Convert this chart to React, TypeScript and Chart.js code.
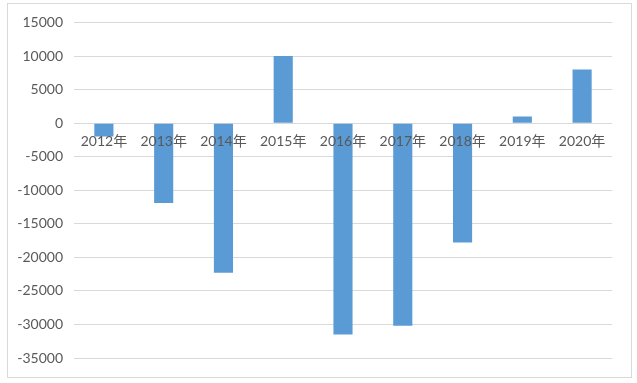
import React, { useEffect, useRef } from "react";
import { Chart, registerables } from "chart.js";

Chart.register(...registerables);

const categories = ["2012年", "2013年", "2014年", "2015年", "2016年", "2017年", "2018年", "2019年", "2020年"];
const values = [-2000, -11900, -22300, 10000, -31500, -30200, -17800, 1000, 8000];
const yMin = -35000;
const yMax = 15000;
const yStep = 5000;

const FONT = "Lato, 'Noto Sans CJK SC', sans-serif";
const TEXT = "#595959";
const GRID = "#d9d9d9";

const borderPlugin = {
  id: "outerBorder",
  beforeDraw(chart: any) {
    const ctx = chart.ctx;
    ctx.save();
    ctx.fillStyle = "#ffffff";
    ctx.fillRect(0, 0, chart.width, chart.height);
    ctx.strokeStyle = GRID;
    ctx.lineWidth = 1;
    ctx.strokeRect(7.5, 3.5, 624, 374);
    ctx.restore();
  },
};

export default function App() {
  const ref = useRef<HTMLCanvasElement>(null);
  useEffect(() => {
    if (!ref.current) return;
    const chart = new Chart(ref.current, {
      type: "bar",
      data: {
        labels: categories,
        datasets: [
          {
            data: values,
            backgroundColor: "#5b9bd5",
            borderWidth: 0,
            barPercentage: 0.32,
            categoryPercentage: 1,
          },
        ],
      },
      options: {
        responsive: false,
        animation: false,
        devicePixelRatio: 1,
        layout: { padding: { left: 0, right: 25, top: 22.5, bottom: 25 } },
        plugins: { legend: { display: false }, tooltip: { enabled: false } },
        scales: {
          x: {
            position: { y: 0 } as any,
            grid: { display: false, drawTicks: false },
            border: { display: false },
            ticks: {
              z: 1,
              color: TEXT,
              font: { family: FONT, size: 14 },
              padding: 10,
              maxRotation: 0,
              autoSkip: false,
            } as any,
            afterFit(scale: any) {
              scale.height = 0;
            },
          },
          y: {
            min: yMin,
            max: yMax,
            grid: { color: GRID, drawTicks: false },
            border: { display: false },
            ticks: {
              stepSize: yStep,
              color: TEXT,
              font: { family: FONT, size: 14 },
              padding: 11,
              callback: (v: any) => String(v),
            },
            afterFit(scale: any) {
              scale.width = 74;
            },
          },
        },
      },
      plugins: [borderPlugin],
    });
    return () => chart.destroy();
  }, []);
  return (
    <div style={{ position: "fixed", left: 0, top: 0, width: 637, height: 383 }}>
      <canvas ref={ref} width={637} height={383} style={{ display: "block" }} />
    </div>
  );
}
